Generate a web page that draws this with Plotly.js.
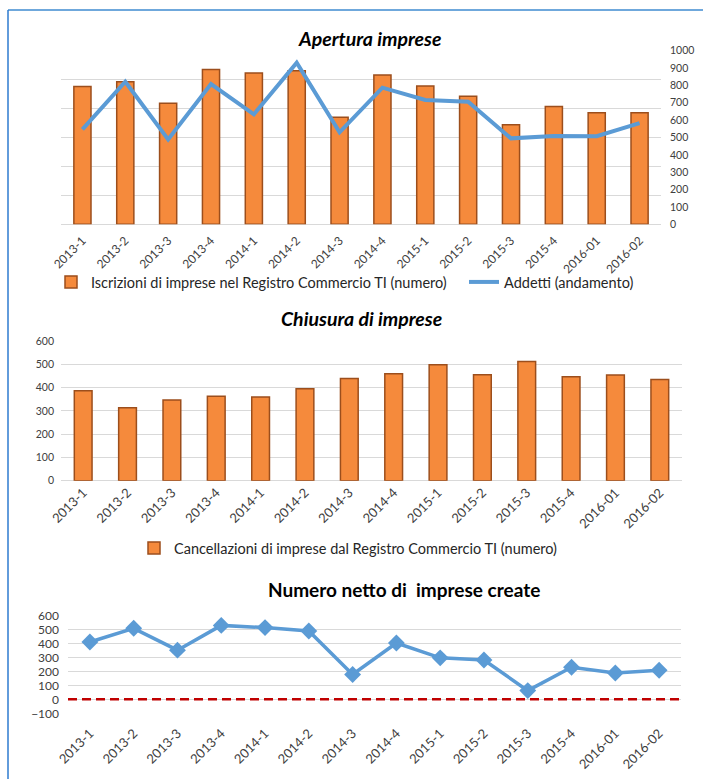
<!DOCTYPE html>
<html>
<head>
<meta charset="utf-8">
<script src="https://cdn.plot.ly/plotly-3.0.1.min.js"></script>
<style>html,body{margin:0;padding:0;background:#fff;}#chart{width:703px;height:779px;}</style>
</head>
<body>
<div id="chart"></div>
<script>
// ---- data ----
var categories = ['2013-1','2013-2','2013-3','2013-4','2014-1','2014-2','2014-3','2014-4','2015-1','2015-2','2015-3','2015-4','2016-01','2016-02'];
var iscrizioni = [794, 821, 697, 892, 871, 884, 616, 860, 796, 737, 573, 678, 643, 643];
var addetti = [547, 821, 489, 808, 633, 931, 530, 787, 716, 706, 495, 509, 507, 583];
var cancellazioni = [386, 313, 347, 363, 359, 395, 439, 459, 498, 455, 512, 446, 454, 435];
var netto = [409, 507, 351, 528, 512, 488, 177, 402, 296, 281, 62, 229, 188, 207];

var seriesNames = {
  iscr: 'Iscrizioni di imprese nel Registro Commercio TI (numero)',
  add: 'Addetti (andamento)',
  canc: 'Cancellazioni di imprese dal Registro Commercio TI (numero)'
};
var titles = ['Apertura imprese', 'Chiusura di imprese', 'Numero netto di  imprese create'];

// ---- layout helpers (pixel -> paper) ----
var W = 703, H = 779;
function px(x){ return x / W; }
function py(y){ return 1 - y / H; }

var FONT = 'Lato, "Open Sans", sans-serif';
var TICKC = '#404040';
var GRID = '#D9D9D9';
var ORANGE = '#F58A3C';
var ORANGE_EDGE = '#9C4E1C';
var BLUE = '#5B9BD5';

var traces = [
  {type:'bar', x:categories, y:iscrizioni, name:seriesNames.iscr, xaxis:'x', yaxis:'y',
   marker:{color:ORANGE, line:{color:ORANGE_EDGE, width:1.5}}, legend:'legend'},
  {type:'scatter', mode:'lines', x:categories, y:addetti, name:seriesNames.add, xaxis:'x', yaxis:'y2',
   line:{color:BLUE, width:4}, legend:'legend3'},
  {type:'bar', x:categories, y:cancellazioni, name:seriesNames.canc, xaxis:'x2', yaxis:'y3',
   marker:{color:ORANGE, line:{color:ORANGE_EDGE, width:1.5}}, legend:'legend2'},
  {type:'scatter', mode:'lines+markers', x:categories, y:netto, name:'Netto', xaxis:'x3', yaxis:'y4',
   line:{color:BLUE, width:3.5}, marker:{symbol:'diamond', size:13, color:BLUE}, showlegend:false}
];

function xaxisBase(domain, anchor, fontSize, standoff){
  return {domain:domain, anchor:anchor, type:'category', range:[-0.5, categories.length - 0.5],
          tickangle:-45, tickfont:{family:FONT, size:fontSize, color:TICKC}, ticklabelstandoff:standoff,
          showgrid:false, zeroline:false, showline:false, ticks:'', fixedrange:true};
}
function legendAt(x, y){
  return {orientation:'h', x:px(x), y:py(y), xanchor:'left', yanchor:'middle',
          font:{family:FONT, size:14.5, color:'#262626'}, itemwidth:30, bgcolor:'rgba(0,0,0,0)'};
}

var layout = {
  width:W, height:H, margin:{l:0,r:0,t:0,b:0}, paper_bgcolor:'#fff', plot_bgcolor:'rgba(0,0,0,0)',
  font:{family:FONT, color:TICKC},
  barmode:'group', bargap:0.6,
  xaxis: xaxisBase([px(61), px(661)], 'y', 12, 6),
  yaxis: {domain:[py(224.3), py(50.7)], range:[0,1000], tick0:0, dtick:1000/6, showticklabels:false,
          gridcolor:GRID, gridwidth:1, zeroline:true, zerolinecolor:GRID, zerolinewidth:1, fixedrange:true},
  yaxis2: {overlaying:'y', side:'right', anchor:'x', range:[0,1000], dtick:100, showgrid:false, zeroline:false,
           tickfont:{family:FONT, size:10.5, color:TICKC}, ticks:'', ticklabelstandoff:8, fixedrange:true},
  xaxis2: xaxisBase([px(61), px(682)], 'y3', 13, 1),
  yaxis3: {domain:[py(480.7), py(341)], anchor:'x2', range:[0,600], dtick:100, gridcolor:GRID,
           zeroline:true, zerolinecolor:GRID, tickfont:{family:FONT, size:10.5, color:TICKC}, ticks:'',
           ticklabelstandoff:6, fixedrange:true},
  xaxis3: xaxisBase([px(68), px(681)], 'y4', 13, 9),
  yaxis4: {domain:[py(713.3), py(615.3)], anchor:'x3', range:[-100,600], dtick:100, gridcolor:GRID,
           zeroline:false, tickfont:{family:FONT, size:12, color:TICKC}, ticks:'',
           ticklabelstandoff:8, fixedrange:true},
  legend: legendAt(51, 282),
  legend3: legendAt(464, 282),
  legend2: legendAt(134, 548),
  annotations: [
    {text:'<b><i>'+titles[0]+'</i></b>', xref:'paper', yref:'paper', x:px(370), y:py(38), showarrow:false,
     xanchor:'center', yanchor:'middle', font:{family:FONT, size:19.5, color:'#000'}},
    {text:'<b><i>'+titles[1]+'</i></b>', xref:'paper', yref:'paper', x:px(361), y:py(318.5), showarrow:false,
     xanchor:'center', yanchor:'middle', font:{family:FONT, size:19.5, color:'#000'}},
    {text:'<b>'+titles[2].replace('  ','&nbsp; ')+'</b>', xref:'paper', yref:'paper', x:px(404), y:py(589), showarrow:false,
     xanchor:'center', yanchor:'middle', font:{family:FONT, size:19, color:'#000'}}
  ],
  shapes: [
    {type:'line', xref:'paper', yref:'paper', x0:px(8), x1:1, y0:py(10), y1:py(10), line:{color:'#6FA8DC', width:2}},
    {type:'line', xref:'paper', yref:'paper', x0:px(8), x1:px(8), y0:py(10), y1:0, line:{color:'#2E7BCF', width:1.5}},
    {type:'line', xref:'x3 domain', yref:'y4', x0:0, x1:1, y0:0, y1:0, line:{color:'#C00000', width:2.5, dash:'9px,5px'}, layer:'above'}
  ]
};

Plotly.newPlot('chart', traces, layout, {displayModeBar:false, staticPlot:true});
</script>
</body>
</html>
